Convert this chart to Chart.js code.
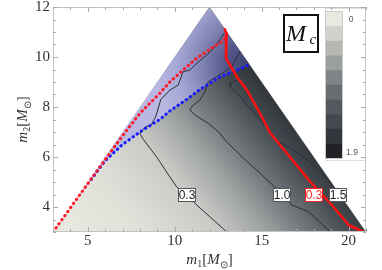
<!DOCTYPE html>
<html>
<head>
<meta charset="utf-8">
<script src="https://cdn.jsdelivr.net/npm/chart.js"></script>
<style>
  html, body { margin: 0; padding: 0; background: #fff; }
  canvas { display: block; }
</style>
</head>
<body>
<canvas id="chart" width="382" height="270"></canvas>
<script>
// points are [m1, m2] in solar masses
const massRegion = [[3, 3], [12, 12], [21, 3]];
const blueDotted = [[5.2, 5.1], [6, 5.85], [7, 6.5], [8, 7.0], [9.14, 7.5], [9.73, 7.85], [10.68, 8.3],
  [11.45, 8.7], [12.6, 9.2], [13.5, 9.45], [14.3, 9.7]];
const redDotted = [[3, 3], [4.5, 4.45], [6, 5.9], [7, 6.85], [8, 7.75], [9.14, 8.55], [9.73, 9.01],
  [10.48, 9.48], [11.26, 9.95], [12.02, 10.31], [12.79, 10.65], [13.0, 10.85]];
const redSolid = [[12.85, 11.15], [12.99, 10.95], [12.95, 9.95], [13.57, 9.21], [14.15, 8.68], [14.9, 7.75],
  [15.5, 6.95], [16.45, 6.15], [17.8, 5.0], [18.95, 4.15], [20.0, 3.28], [20.85, 3.0]];
const contour03 = [[12.99, 3.0], [12.02, 3.61], [11.26, 4.08], [10.68, 4.5], [10.1, 4.81], [9.14, 5.81],
  [8.95, 6.01], [8.2, 6.7], [7.99, 6.95], [8.3, 7.2], [8.66, 7.3], [8.9, 7.6], [9.2, 8.3], [9.73, 8.68],
  [10.2, 8.88], [10.48, 9.41], [10.87, 9.48], [11.16, 9.68], [11.83, 10.08], [12.22, 10.33], [12.5, 10.6], [12.85, 10.95]];
const contour10 = [[13.76, 10.23], [13.28, 9.61], [12.41, 9.21], [11.93, 9.01], [11.74, 8.61], [11.45, 8.28],
  [10.97, 8.01], [10.87, 7.88], [11.16, 7.68], [11.93, 7.35], [12.6, 6.95], [12.89, 6.68], [13.95, 5.95],
  [14.91, 5.35], [16.19, 4.51], [16.74, 4.08], [17.7, 3.81], [18.95, 3.0]];
const contour15 = [[13.75, 9.12], [13.18, 8.95], [13.2, 8.8], [13.85, 8.35], [14.43, 7.88], [15.1, 7.35],
  [15.49, 7.01], [15.78, 6.68], [16.16, 6.55], [17.12, 6.15], [18.18, 5.55], [18.95, 4.95], [19.38, 4.5], [19.5, 4.5]];

const labelText = ['0.3', '1.0', '0.3', '1.5'];
const labelM1 = [10.68, 16.19, 18.0, 19.38];
const labelM2 = [4.5, 4.5, 4.5, 4.5];

const xTicks = [5, 10, 15, 20];
const yTicks = [4, 6, 8, 10, 12];
const cbarMin = '0';
const cbarMax = '1.9';

// styles
const labelStroke = ['#555', '#555', '#ff2020', '#555'];
const labelInk = ['#222', '#222', '#ff2020', '#222'];
const cbarColors = ['#e9e9e1', '#d1d2cd', '#b6b8b4', '#9b9f9f', '#7f8587', '#676d71', '#53595f', '#43494f', '#33373d', '#1f2125'];
const serif = '"Liberation Serif", "Times New Roman", serif';
const sans = '"Liberation Sans", Arial, sans-serif';

const pts = arr => arr.map(p => ({ x: p[0], y: p[1] }));
const blueRegion = [[4.2, 4.2], [12, 12]].concat(blueDotted.slice().reverse());

function fieldFill(ctx) {
  const ch = ctx.chart;
  if (!ch.chartArea) return '#ccc';
  const x = ch.scales.x, y = ch.scales.y;
  const g = ch.ctx.createLinearGradient(x.getPixelForValue(5.1), y.getPixelForValue(2.28),
    x.getPixelForValue(17.2), y.getPixelForValue(9.1));
  g.addColorStop(0, '#e8e8e0');
  g.addColorStop(0.2, '#e0e0d9');
  g.addColorStop(0.41, '#c9cbc6');
  g.addColorStop(0.55, '#9fa3a3');
  g.addColorStop(0.68, '#6c7276');
  g.addColorStop(0.81, '#41464c');
  g.addColorStop(0.92, '#2c2f34');
  g.addColorStop(1, '#202226');
  return g;
}

function blueFill(ctx) {
  const ch = ctx.chart;
  if (!ch.chartArea) return '#aab';
  const x = ch.scales.x, y = ch.scales.y;
  const cx = x.getPixelForValue(14.3), cy = y.getPixelForValue(9.7);
  const g = ch.ctx.createRadialGradient(cx, cy, 0, cx, cy, 95);
  g.addColorStop(0, '#3c406a');
  g.addColorStop(0.25, '#53578a');
  g.addColorStop(0.5, '#8083b2');
  g.addColorStop(0.75, '#a4a6d4');
  g.addColorStop(1, '#b8b8e2');
  return g;
}

function lineSet(data, color, width, order, dash) {
  return {
    data: pts(data), showLine: true, borderColor: color, borderWidth: width,
    pointRadius: 0, tension: 0, fill: false, order: order,
    borderDash: dash || [], borderCapStyle: dash ? 'round' : 'butt', borderJoinStyle: 'round'
  };
}

function runsWidth(c, runs) {
  let w = 0;
  runs.forEach(r => { c.font = r[1]; w += c.measureText(r[0]).width; });
  return w;
}
function drawRuns(c, runs, cx, base) {
  let x = cx - runsWidth(c, runs) / 2;
  runs.forEach(r => { c.font = r[1]; c.fillText(r[0], x, base + r[2]); x += c.measureText(r[0]).width; });
}

const decor = {
  id: 'decor',
  afterDatasetsDraw(chart) {
    const c = chart.ctx, x = chart.scales.x, y = chart.scales.y, a = chart.chartArea;
    c.save();

    // contour labels
    c.font = '12px ' + sans;
    c.textAlign = 'center';
    c.textBaseline = 'middle';
    labelText.forEach((t, i) => {
      const px = Math.round(x.getPixelForValue(labelM1[i])), py = Math.round(y.getPixelForValue(labelM2[i]));
      c.fillStyle = '#fff';
      c.fillRect(px - 9, py - 7, 18, 14);
      c.strokeStyle = labelStroke[i];
      c.lineWidth = 1;
      c.strokeRect(px - 8.5, py - 6.5, 17, 13);
      c.fillStyle = labelInk[i];
      c.fillText(t, px, py + 0.5);
    });

    // colour bar
    c.fillStyle = '#fff';
    c.fillRect(325, 8, 40, 153);
    c.strokeStyle = '#ddd';
    c.strokeRect(325.5, 8.5, 40, 152);
    const bh = (158 - 11.5) / cbarColors.length;
    cbarColors.forEach((col, i) => {
      c.fillStyle = col;
      c.fillRect(326, 11.5 + i * bh, 16, bh + 0.5);
    });
    c.strokeStyle = '#ccc';
    c.strokeRect(325.5, 11.5, 17, 147);
    c.fillStyle = '#555';
    c.font = '8.5px ' + sans;
    c.textAlign = 'center';
    c.fillText(cbarMin, 351, 19.5);
    c.fillText(cbarMax, 352, 152.5);

    // Mc box
    c.fillStyle = '#fff';
    c.fillRect(284, 15, 34, 37);
    c.strokeStyle = '#111';
    c.lineWidth = 2;
    c.strokeRect(284, 15, 34, 37);
    c.fillStyle = '#111';
    c.textAlign = 'left';
    c.textBaseline = 'alphabetic';
    c.font = 'italic 24px ' + serif;
    c.fillText('M', 286, 40.5);
    c.font = 'italic 15px ' + serif;
    c.fillText('c', 309.5, 43.5);

    // frame and inward ticks
    c.strokeStyle = '#c4c4c4';
    c.lineWidth = 1;
    c.strokeRect(a.left + 0.5, a.top + 0.5, a.right - a.left - 1, a.bottom - a.top - 1);
    c.strokeStyle = '#aaa';
    c.beginPath();
    for (let v = 3; v <= 21; v += 1) {
      const px = Math.round(x.getPixelForValue(v)) + 0.5;
      const len = xTicks.includes(v) ? 5 : 3;
      c.moveTo(px, a.bottom); c.lineTo(px, a.bottom - len);
      c.moveTo(px, a.top); c.lineTo(px, a.top + len);
    }
    for (let v = 3; v <= 12; v += 0.5) {
      const py = Math.round(y.getPixelForValue(v)) + 0.5;
      const len = yTicks.includes(v) ? 5 : 3;
      c.moveTo(a.left, py); c.lineTo(a.left + len, py);
      c.moveTo(a.right, py); c.lineTo(a.right - len, py);
    }
    c.stroke();

    // tick labels
    c.fillStyle = '#333';
    c.font = '15px ' + serif;
    c.textBaseline = 'middle';
    c.textAlign = 'center';
    xTicks.forEach(v => c.fillText(String(v), x.getPixelForValue(v), 241));
    c.textAlign = 'right';
    yTicks.forEach(v => c.fillText(String(v), 50, y.getPixelForValue(v) + 0.5));

    // axis titles
    c.textBaseline = 'alphabetic';
    c.textAlign = 'left';
    const it = 'italic 15px ' + serif, rm = '15px ' + serif, sub = '10px ' + serif;
    drawRuns(c, [['m', it, 0], ['1', sub, 3], ['[', rm, 0], ['M', it, 0], ['\u2299', sub, 4], [']', rm, 0]],
      (a.left + a.right) / 2, 264);
    c.translate(27, (a.top + a.bottom) / 2);
    c.rotate(-Math.PI / 2);
    drawRuns(c, [['m', it, 0], ['2', sub, 3], ['[', rm, 0], ['M', it, 0], ['\u2299', sub, 4], [']', rm, 0]], 0, 0);
    c.restore();
  }
};

new Chart(document.getElementById('chart'), {
  type: 'scatter',
  data: {
    datasets: [
      Object.assign(lineSet(massRegion, 'rgba(0,0,0,0)', 0, 10), { fill: 'shape', backgroundColor: fieldFill }),
      Object.assign(lineSet(blueRegion, 'rgba(0,0,0,0)', 0, 9), { fill: 'shape', backgroundColor: blueFill }),
      lineSet(contour03, '#2b2e35', 1, 6),
      lineSet(contour10, '#2b2e35', 1, 6),
      lineSet(contour15, '#2b2e35', 1, 6),
      lineSet(blueDotted, '#1a1aff', 3, 4, [0.5, 4.5]),
      lineSet(redDotted, '#ff1a2a', 3, 3, [0.5, 4.5]),
      lineSet(redSolid, '#ff1010', 2.5, 1)
    ]
  },
  options: {
    responsive: false,
    animation: false,
    layout: { padding: { left: 53, right: 16, top: 7, bottom: 38 } },
    scales: {
      x: { type: 'linear', min: 3, max: 21, display: false },
      y: { type: 'linear', min: 3, max: 12, display: false }
    },
    plugins: { legend: { display: false }, tooltip: { enabled: false } }
  },
  plugins: [decor]
});
</script>
</body>
</html>
